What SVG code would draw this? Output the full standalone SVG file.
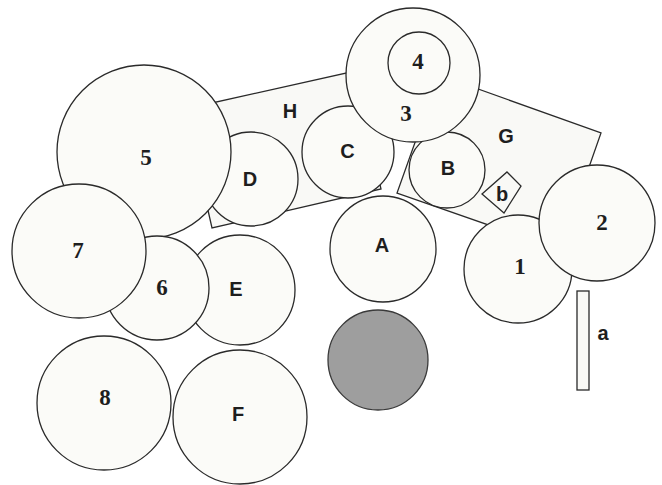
<svg xmlns="http://www.w3.org/2000/svg" width="662" height="485" viewBox="0 0 662 485">
<style>
.c{fill:#fbfbf8;stroke:#2a2a2a;stroke-width:1.3}
.p{fill:#f9f9f6;stroke:#2a2a2a;stroke-width:1.3}
.g{fill:#9e9e9e;stroke:#3a3a3a;stroke-width:1.3}
.n{font-family:"Liberation Serif",serif;font-weight:bold;font-size:23px;fill:#1e1e1e;text-anchor:middle}
.l{font-family:"Liberation Sans",sans-serif;font-weight:bold;font-size:20px;fill:#1e1e1e;text-anchor:middle}
</style>
<rect width="662" height="485" fill="#ffffff"/>
<g id="H"><polygon class="p" points="185,109 355,71 381,189 212,228"/><text class="l" x="290" y="118">H</text></g>
<g id="G"><polygon class="p" points="439,75 601,133 560,250 397,193"/><text class="l" x="506" y="143">G</text></g>
<g id="A"><circle class="c" cx="383" cy="249" r="53"/><text class="l" x="382" y="252">A</text></g>
<g id="shaded"><circle class="g" cx="378" cy="360" r="50"/></g>
<g id="D"><circle class="c" cx="251" cy="179" r="47"/><text class="l" x="250" y="186">D</text></g>
<g id="n5"><circle class="c" cx="144" cy="152" r="87"/><text class="n" x="146" y="165">5</text></g>
<g id="E"><circle class="c" cx="240" cy="290" r="55"/><text class="l" x="236" y="296">E</text></g>
<g id="n6"><circle class="c" cx="157" cy="288" r="52"/><text class="n" x="162" y="295">6</text></g>
<g id="n7"><circle class="c" cx="79" cy="251" r="67"/><text class="n" x="78" y="258">7</text></g>
<g id="n8"><circle class="c" cx="104" cy="403" r="67"/><text class="n" x="105" y="405">8</text></g>
<g id="F"><circle class="c" cx="240" cy="417" r="67"/><text class="l" x="238" y="421">F</text></g>
<g id="C"><circle class="c" cx="348" cy="152" r="46"/><text class="l" x="347.5" y="158">C</text></g>
<g id="B"><circle class="c" cx="447" cy="170" r="38"/><text class="l" x="448" y="175">B</text></g>
<g id="n3"><circle class="c" cx="413" cy="75" r="67"/><text class="n" x="406" y="121">3</text></g>
<g id="n4"><circle class="c" cx="419" cy="63" r="31"/><text class="n" x="418" y="69">4</text></g>
<g id="n1"><circle class="c" cx="518" cy="269" r="54"/><text class="n" x="520" y="274">1</text></g>
<g id="n2"><circle class="c" cx="597" cy="223" r="58"/><text class="n" x="602" y="230">2</text></g>
<g id="b"><polygon class="p" points="507,172 521,186 504,213 482,194"/><text class="l" x="502" y="201">b</text></g>
<g id="a"><rect class="p" x="577" y="291" width="12" height="99"/><text class="l" x="603" y="340">a</text></g>
<g id="connectors"></g>
</svg>
